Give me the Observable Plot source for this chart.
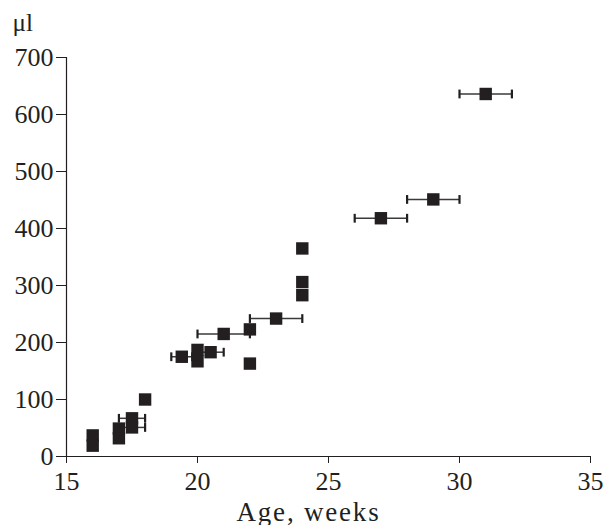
<!DOCTYPE html>
<html><head><meta charset="utf-8">
<script src="https://cdn.jsdelivr.net/npm/d3@7"></script>
<script src="https://cdn.jsdelivr.net/npm/@observablehq/plot@0.6"></script>
<style>body{margin:0;background:#fff;} #chart svg{overflow:visible} .xlabel text{letter-spacing:1.8px}</style>
</head><body><div id="chart"></div>
<script>
// Data
const ages    = [16, 16, 17, 17, 17.5, 17.5, 18, 19.4, 20, 20, 20.5, 21, 22, 22, 23, 24, 24, 24, 27, 29, 31];
const volumes = [37, 19, 49, 32, 67, 51, 100, 175, 187, 167, 183, 215, 223, 163, 242, 365, 306, 283, 418, 451, 636];
const errLow  = [null, null, null, null, 17, 17, null, 19.0, null, null, 20, 20, null, null, 22, null, null, null, 26, 28, 30];
const errHigh = [null, null, null, null, 18, 18, null, 19.8, null, null, 21, 22, null, null, 24, null, null, null, 28, 30, 32];
const xTicks = [15, 20, 25, 30, 35];
const yTicks = [0, 100, 200, 300, 400, 500, 600, 700];
const xLabel = "Age, weeks";
const yLabel = "μl";

const rows = ages.map((a, i) => ({age: a, vol: volumes[i], lo: errLow[i], hi: errHigh[i]}));
const bars = rows.filter(d => d.lo != null);
const caps = bars.flatMap(d => [{x: d.lo, vol: d.vol}, {x: d.hi, vol: d.vol}]);

const capSymbol = {draw(ctx) { ctx.moveTo(0, -4.4); ctx.lineTo(0, 4.4); }};
const ink = "#231f20";

const chart = Plot.plot({
  width: 605, height: 525,
  marginLeft: 66, marginRight: 15, marginTop: 57, marginBottom: 69,
  style: {fontFamily: "'Liberation Serif', 'Times New Roman', serif", fontSize: "26px", color: ink, background: "#fff"},
  x: {domain: [d3.min(xTicks), d3.max(xTicks)], axis: null},
  y: {domain: [d3.min(yTicks), d3.max(yTicks)], axis: null},
  marks: [
    Plot.ruleY(bars, {y: "vol", x1: "lo", x2: "hi", stroke: "#3a3a3a", strokeWidth: 1.5}),
    Plot.dot(caps, {x: "x", y: "vol", symbol: capSymbol, stroke: ink, strokeWidth: 2.2, fill: "none"}),
    Plot.ruleX([d3.min(xTicks)], {y1: d3.min(yTicks), y2: d3.max(yTicks), stroke: ink, strokeWidth: 1.2}),
    Plot.ruleY([d3.min(yTicks)], {x1: d3.min(xTicks), x2: d3.max(xTicks), stroke: ink, strokeWidth: 1.2}),
    Plot.axisX({ticks: xTicks, tickSize: 7, tickPadding: 8, label: null, fontSize: 26}),
    Plot.axisY({ticks: yTicks, tickSize: 10, tickPadding: 3, label: null, fontSize: 26}),
    Plot.dot(rows, {x: "age", y: "vol", symbol: "square", r: 7, fill: ink}),
    Plot.text([xLabel], {frameAnchor: "bottom", dx: -20, dy: 64, lineAnchor: "bottom", fontSize: 27, fill: ink, className: "xlabel"}),
    Plot.text([yLabel], {frameAnchor: "top-left", textAnchor: "start", dx: -54, dy: -27, lineAnchor: "bottom", fontSize: 25, fill: ink})
  ]
});
document.getElementById("chart").append(chart);
</script>
</body></html>
